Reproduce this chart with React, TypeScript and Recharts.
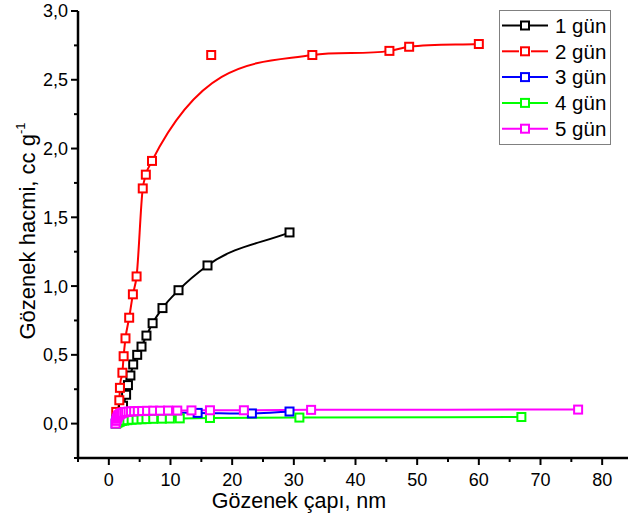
import { LineChart, Line, XAxis, YAxis } from 'recharts'

// 1 gün
const blackX = [1.5, 2.3, 2.8, 3.1, 3.5, 3.95, 4.6, 5.3, 6.1, 7.1, 8.7, 11.3, 16.0, 29.3]
const blackY = [0.06, 0.13, 0.21, 0.28, 0.35, 0.43, 0.5, 0.56, 0.64, 0.73, 0.84, 0.97, 1.15, 1.39]
// 2 gün
const redX = [1.2, 1.7, 1.8, 2.2, 2.4, 2.7, 3.3, 3.9, 4.5, 5.5, 6.0, 7.0, 16.6, 33.0, 45.5, 48.7, 60.0]
const redY = [0.085, 0.17, 0.26, 0.37, 0.49, 0.62, 0.77, 0.94, 1.07, 1.71, 1.81, 1.91, 2.68, 2.68, 2.71, 2.74, 2.76]
const redOffCurveX = [16.6] // point the fitted curve does not pass through
// 3 gün
const blueX = [1.1, 1.2, 1.3, 1.5, 1.7, 1.9, 2.2, 2.5, 2.9, 3.4, 4.0, 4.7, 5.6, 6.8, 8.4, 10.8, 14.4, 23.2, 29.3]
const blueY = [0.0, 0.02, 0.035, 0.045, 0.052, 0.058, 0.063, 0.067, 0.07, 0.072, 0.074, 0.075, 0.076, 0.077, 0.078, 0.079, 0.078, 0.074, 0.088]
// 4 gün
const greenX = [1.2, 1.4, 1.6, 1.8, 2.1, 2.5, 3.0, 3.7, 4.5, 5.3, 6.1, 7.2, 8.6, 9.9, 11.5, 16.4, 30.9, 66.9]
const greenY = [0.0, 0.006, 0.011, 0.015, 0.019, 0.022, 0.025, 0.028, 0.03, 0.032, 0.033, 0.035, 0.036, 0.037, 0.038, 0.041, 0.044, 0.048]
// 5 gün
const magentaX = [1.1, 1.2, 1.3, 1.4, 1.5, 1.6, 1.8, 2.0, 2.2, 2.5, 2.8, 3.2, 3.6, 4.1, 4.7, 5.4, 6.2, 7.2, 8.3, 9.6, 11.1, 13.4, 16.4, 21.9, 32.8, 76.1]
const magentaY = [0.0, 0.02, 0.035, 0.046, 0.055, 0.062, 0.069, 0.074, 0.078, 0.082, 0.085, 0.087, 0.089, 0.09, 0.091, 0.092, 0.093, 0.094, 0.094, 0.095, 0.095, 0.096, 0.097, 0.097, 0.1, 0.102]

const seriesNames = ['1 gün', '2 gün', '3 gün', '4 gün', '5 gün']
const seriesColors = ['#000000', '#ff0000', '#0000ff', '#00ff00', '#ff00ff']

const xTicks = [-5, 0, 5, 10, 15, 20, 25, 30, 35, 40, 45, 50, 55, 60, 65, 70, 75, 80, 85]
const yTicks = [-0.25, 0, 0.25, 0.5, 0.75, 1, 1.25, 1.5, 1.75, 2, 2.25, 2.5, 2.75, 3]

const FONT = "'Liberation Sans', Arial, sans-serif"

const toPts = (xs: number[], ys: number[]) => xs.map((x, i) => ({ x, y: ys[i] }))

const blackPts = toPts(blackX, blackY)
const redPts = toPts(redX, redY)
const redCurve = redPts.filter(p => !redOffCurveX.includes(p.x))
const redOff = redPts.filter(p => redOffCurveX.includes(p.x))
const bluePts = toPts(blueX, blueY)
const greenPts = toPts(greenX, greenY)
const magentaPts = toPts(magentaX, magentaY)

// spline through the points, slopes only limited enough to avoid overshoot (closer to Origin's spline)
const softSpline = (ctx: any) => {
  let px: number[] = []
  let py: number[] = []
  return {
    areaStart() {},
    areaEnd() {},
    lineStart() {
      px = []
      py = []
    },
    point(x: number, y: number) {
      px.push(+x)
      py.push(+y)
    },
    lineEnd() {
      const n = px.length
      if (n === 0) return
      ctx.moveTo(px[0], py[0])
      if (n === 1) return
      const h: number[] = []
      const s: number[] = []
      for (let i = 0; i < n - 1; i++) {
        h.push(px[i + 1] - px[i] || 1e-6)
        s.push((py[i + 1] - py[i]) / (px[i + 1] - px[i] || 1e-6))
      }
      const m: number[] = new Array(n).fill(0)
      m[0] = s[0]
      m[n - 1] = s[n - 2]
      for (let i = 1; i < n - 1; i++) {
        if (s[i - 1] * s[i] <= 0) {
          m[i] = 0
          continue
        }
        const p = (s[i - 1] * h[i] + s[i] * h[i - 1]) / (h[i - 1] + h[i])
        const lim = 3 * Math.min(Math.abs(s[i - 1]), Math.abs(s[i]))
        m[i] = Math.sign(p) * Math.min(Math.abs(p), lim)
      }
      for (let i = 0; i < n - 1; i++) {
        const d = h[i] / 3
        ctx.bezierCurveTo(px[i] + d, py[i] + m[i] * d, px[i + 1] - d, py[i + 1] - m[i + 1] * d, px[i + 1], py[i + 1])
      }
    },
  }
}

const squareDot = (color: string) => (props: any) => {
  const { cx, cy, index } = props
  if (cx == null || cy == null) return <g key={index} />
  return (
    <rect key={index} x={cx - 4} y={cy - 4} width={8} height={8} fill="#fff" stroke={color} strokeWidth={2} />
  )
}

const XTick = (props: any) => {
  const { x, y, payload } = props
  const major = payload.value % 10 === 0 && payload.value >= 0
  return (
    <g>
      <line x1={x} x2={x} y1={y} y2={y + (major ? 7 : 4)} stroke="#000" strokeWidth={2} />
      {major && (
        <text x={x} y={y + 28} textAnchor="middle" fontSize={18} fontFamily={FONT} fill="#000">
          {payload.value}
        </text>
      )}
    </g>
  )
}

const YTick = (props: any) => {
  const { x, y, payload } = props
  const major = Math.round(payload.value * 100) % 50 === 0
  return (
    <g>
      <line x1={x} x2={x - (major ? 7 : 4)} y1={y} y2={y} stroke="#000" strokeWidth={2} />
      {major && (
        <text x={x - 10} y={y} dy="0.36em" textAnchor="end" fontSize={18} fontFamily={FONT} fill="#000">
          {payload.value.toFixed(1).replace('.', ',')}
        </text>
      )}
    </g>
  )
}

function LegendBox() {
  return (
    <svg width={112} height={135} style={{ position: 'absolute', left: 499, top: 10 }}>
      <rect x={0.5} y={0.5} width={111} height={134} fill="#fff" stroke="#808080" strokeWidth={1} />
      {seriesNames.map((name, i) => {
        const cy = 15.5 + i * 25.8
        const c = seriesColors[i]
        return (
          <g key={name}>
            {i === 1 ? (
              <>
                <line x1={3} x2={20} y1={cy} y2={cy} stroke={c} strokeWidth={2} />
                <line x1={32} x2={49} y1={cy} y2={cy} stroke={c} strokeWidth={2} />
              </>
            ) : (
              <line x1={3} x2={49} y1={cy} y2={cy} stroke={c} strokeWidth={2} />
            )}
            <rect x={22} y={cy - 4} width={8} height={8} fill="#fff" stroke={c} strokeWidth={2} />
            <text x={56} y={cy} dy="0.36em" fontSize={20.5} fontFamily={FONT} fill="#000">
              {name}
            </text>
          </g>
        )
      })}
    </svg>
  )
}

export default function App() {
  return (
    <div style={{ position: 'absolute', left: 0, top: 0, width: 628, height: 518, overflow: 'hidden', background: '#fff' }}>
      <LineChart width={640} height={518} margin={{ top: 11, right: 7, left: 0, bottom: 0 }}>
        <XAxis
          xAxisId="b"
          type="number"
          dataKey="x"
          domain={[-5, 85]}
          ticks={xTicks}
          interval={0}
          allowDataOverflow
          height={60}
          tickLine={false}
          tickSize={0}
          tickMargin={0}
          tick={<XTick />}
          axisLine={{ stroke: '#000', strokeWidth: 2.5 }}
        />
        <XAxis
          xAxisId="t"
          orientation="top"
          type="number"
          dataKey="x"
          domain={[-5, 85]}
          height={0}
          tick={false}
          tickLine={false}
          axisLine={{ stroke: '#000', strokeWidth: 2.5 }}
        />
        <YAxis
          yAxisId="l"
          type="number"
          domain={[-0.25, 3]}
          ticks={yTicks}
          interval={0}
          allowDataOverflow
          width={78}
          tickLine={false}
          tickSize={0}
          tickMargin={0}
          tick={<YTick />}
          axisLine={{ stroke: '#000', strokeWidth: 2.5 }}
        />
        <YAxis
          yAxisId="r"
          orientation="right"
          type="number"
          domain={[-0.25, 3]}
          width={0}
          tick={false}
          tickLine={false}
          axisLine={{ stroke: '#000', strokeWidth: 2.5 }}
        />
        <Line xAxisId="b" yAxisId="l" data={blackPts} dataKey="y" type={softSpline as any} stroke={seriesColors[0]} strokeWidth={2} dot={squareDot(seriesColors[0])} activeDot={false} isAnimationActive={false} />
        <Line xAxisId="b" yAxisId="l" data={redCurve} dataKey="y" type={softSpline as any} stroke={seriesColors[1]} strokeWidth={2} dot={squareDot(seriesColors[1])} activeDot={false} isAnimationActive={false} />
        <Line xAxisId="b" yAxisId="l" data={redOff} dataKey="y" stroke="none" dot={squareDot(seriesColors[1])} activeDot={false} isAnimationActive={false} />
        <Line xAxisId="b" yAxisId="l" data={bluePts} dataKey="y" type={softSpline as any} stroke={seriesColors[2]} strokeWidth={2} dot={squareDot(seriesColors[2])} activeDot={false} isAnimationActive={false} />
        <Line xAxisId="b" yAxisId="l" data={greenPts} dataKey="y" type={softSpline as any} stroke={seriesColors[3]} strokeWidth={2} dot={squareDot(seriesColors[3])} activeDot={false} isAnimationActive={false} />
        <Line xAxisId="b" yAxisId="l" data={magentaPts} dataKey="y" type={softSpline as any} stroke={seriesColors[4]} strokeWidth={2} dot={squareDot(seriesColors[4])} activeDot={false} isAnimationActive={false} />
      </LineChart>
      <svg width={628} height={518} style={{ position: 'absolute', left: 0, top: 0, pointerEvents: 'none' }}>
        <text x={299} y={508} textAnchor="middle" fontSize={21.5} fontFamily={FONT} fill="#000">
          Gözenek çapı, nm
        </text>
        <text transform="translate(35,231) rotate(-90)" textAnchor="middle" fontSize={22} fontFamily={FONT} fill="#000">
          Gözenek hacmi, cc g<tspan fontSize={13} dy={-10}>-1</tspan>
        </text>
      </svg>
      <LegendBox />
    </div>
  )
}
